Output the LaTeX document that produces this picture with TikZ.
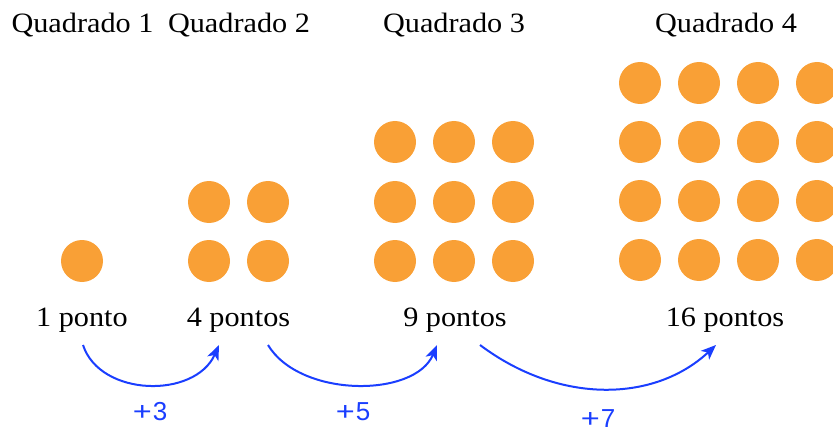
\documentclass[tikz,border=0pt]{standalone}
\usepackage{fontspec}
\setmainfont[FakeStretch=1.08]{Liberation Serif}
\newfontfamily\incfont{Liberation Sans}
\usetikzlibrary{arrows.meta}
\definecolor{dotorange}{RGB}{249,160,54}
\definecolor{arrblue}{RGB}{26,62,255}
\tikzset{
  dotc/.style={fill=dotorange, draw=none},
  ttl/.style={anchor=base, inner sep=0pt, font=\fontsize{28}{30}\selectfont},
  lbl/.style={anchor=base, inner sep=0pt, font=\fontsize{28}{30}\selectfont},
  inc/.style={anchor=base, inner sep=0pt, text=arrblue, font=\incfont\fontsize{26}{28}\selectfont},
  jump/.style={draw=arrblue, line width=2pt, -{Stealth[length=15pt,width=12pt,inset=4pt]}}
}
\newcommand{\incr}[1]{\scalebox{1.25}[1]{+}\kern1pt#1}
\begin{document}
\begin{tikzpicture}[x=1pt,y=-1pt]
\useasboundingbox (0,0) rectangle (833,433);
\clip (0,0) rectangle (833,433);
% titles
\node[ttl] (t1) at (82.5,33) {Quadrado 1};
\node[ttl] (t2) at (239,33) {Quadrado 2};
\node[ttl] (t3) at (454,33) {Quadrado 3};
\node[ttl] (t4) at (726,33) {Quadrado 4};
% dots
\fill[dotc] (82,261) circle (21);
\foreach \x in {209,268} \foreach \y in {202,261} \fill[dotc] (\x,\y) circle (21);
\foreach \x in {395,454,513} \foreach \y in {142,202,261} \fill[dotc] (\x,\y) circle (21);
\foreach \x in {640,699,758,817} \foreach \y in {83,142,201,260} \fill[dotc] (\x,\y) circle (21);
% labels
\node[lbl] (l1) at (82,326) {1 ponto};
\node[lbl] (l2) at (238.5,326) {4 pontos};
\node[lbl] (l3) at (455,326) {9 pontos};
\node[lbl] (l4) at (725,326) {16 pontos};
% arrow ends
\coordinate (s1) at (83,345);
\coordinate (e1) at (219,345);
\coordinate (s2) at (268,345);
\coordinate (e2) at (437,345);
\coordinate (s3) at (480,345);
\coordinate (e3) at (716,345);
\draw[jump] (s1) .. controls (100,397) and (195,399) .. (e1);
\draw[jump] (s2) .. controls (300,398) and (415,398) .. (e2);
\draw[jump] (s3) .. controls (560,405) and (655,402) .. (e3);
% increments
\node[inc] (i1) at (150,420) {\incr{3}};
\node[inc] (i2) at (353,420) {\incr{5}};
\node[inc] (i3) at (598,427) {\incr{7}};
\end{tikzpicture}
\end{document}
